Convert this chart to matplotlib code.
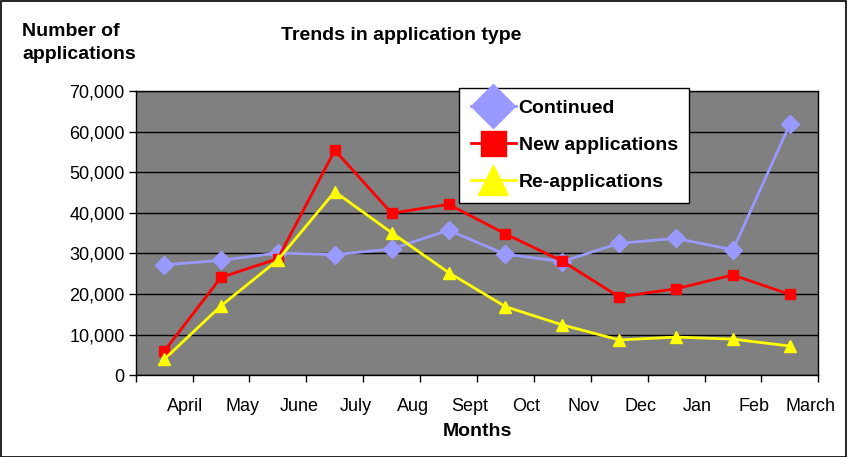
import matplotlib
matplotlib.use("Agg")
import matplotlib.pyplot as plt
from matplotlib.lines import Line2D
from matplotlib.patches import Rectangle
from matplotlib.ticker import FuncFormatter, MultipleLocator
import numpy as np

plt.rcParams['font.family'] = ['Liberation Sans', 'DejaVu Sans']

months = ["April", "May", "June", "July", "Aug", "Sept", "Oct", "Nov",
          "Dec", "Jan", "Feb", "March"]
continued = [27200, 28300, 30100, 29700, 31100, 35700, 29800, 28000,
             32500, 33700, 30900, 61800]
new_apps = [5900, 24100, 28700, 55400, 39900, 42100, 34800, 28100,
            19300, 21300, 24700, 19900]
re_apps = [3900, 17100, 28400, 45200, 35100, 25300, 16900, 12400,
           8700, 9400, 8900, 7200]

fig = plt.figure(figsize=(8.48, 4.57), dpi=100)
fig.patches.append(Rectangle((0.001, 0.001), 0.997, 0.996, transform=fig.transFigure,
                             fill=False, edgecolor='black', linewidth=1.2))
ax = fig.add_axes([0.16, 0.1788, 0.805, 0.6222])
ax.set_facecolor('#808080')

x = np.arange(len(months))
ax.plot(x, continued, color='#9999FF', lw=2, marker='D', ms=9, zorder=3)
ax.plot(x, new_apps, color='#FF0000', lw=2, marker='s', ms=7.5, zorder=4)
ax.plot(x, re_apps, color='#FFFF00', lw=2, marker='^', ms=8.5, zorder=5)

ax.set_xlim(-0.5, len(months) - 0.5)
ax.set_ylim(0, 70000)
ax.yaxis.set_major_locator(MultipleLocator(10000))
ax.yaxis.set_major_formatter(FuncFormatter(lambda v, p: f"{int(v):,}"))
ax.grid(axis='y', color='black', lw=1, zorder=1)
ax.set_axisbelow(True)

# category boundaries ticks and offset labels
ax.set_xticks(np.arange(-0.5, len(months)), minor=True)
ax.set_xticks(x + 0.37)
ax.set_xticklabels(months, fontsize=13)
ax.tick_params(axis='x', which='major', length=0, pad=16)
ax.tick_params(axis='x', which='minor', length=5, width=1, direction='out')
ax.tick_params(axis='y', length=5, width=1, labelsize=13, pad=3)
for s in ax.spines.values():
    s.set_color('black')
    s.set_linewidth(1)

ax.set_xlabel("Months", fontsize=14, fontweight='bold', labelpad=6)
fig.text(0.026, 0.95, "Number of\napplications", fontsize=14, fontweight='bold',
         ha='left', va='top', linespacing=1.45)
fig.text(0.473, 0.923, "Trends in application type", fontsize=14, fontweight='bold',
         ha='center', va='center')

handles = [
    Line2D([], [], color='#9999FF', lw=2, marker='D', ms=22),
    Line2D([], [], color='#FF0000', lw=2, marker='s', ms=18),
    Line2D([], [], color='#FFFF00', lw=2, marker='^', ms=22),
]
leg = ax.legend(handles, ["Continued", "New applications", "Re-applications"],
                loc='upper left', bbox_to_anchor=(0.474, 1.012),
                frameon=True, fancybox=False, framealpha=1, edgecolor='black',
                prop={'weight': 'bold', 'size': 14}, handlelength=2.3,
                handletextpad=0.15, labelspacing=1.0, borderpad=0.6,
                borderaxespad=0)
leg.get_frame().set_linewidth(1)
leg.set_zorder(10)

fig.savefig("out.png", dpi=100)
